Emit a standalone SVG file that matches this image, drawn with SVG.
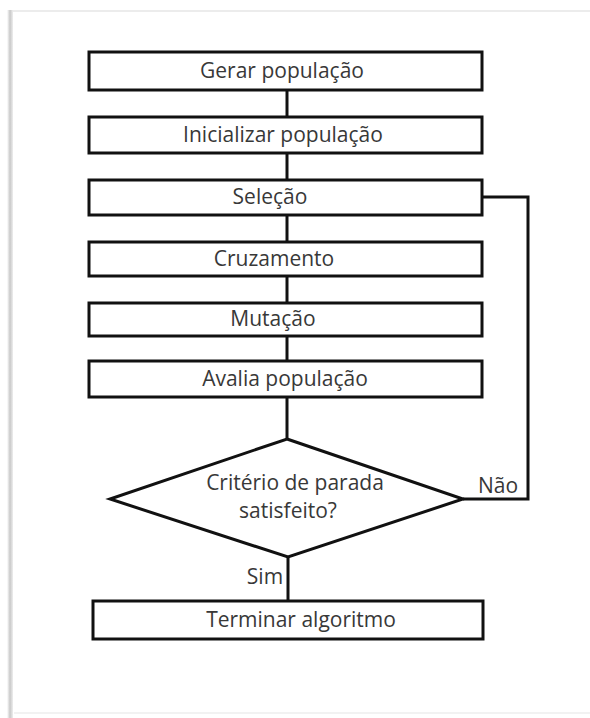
<svg xmlns="http://www.w3.org/2000/svg" width="590" height="718" viewBox="0 0 590 718">
<defs>
<linearGradient id="shadow" x1="0" y1="0" x2="1" y2="0">
<stop offset="0" stop-color="#ffffff"/>
<stop offset="0.5" stop-color="#c8c8c8"/>
<stop offset="1" stop-color="#eeeeee"/>
</linearGradient>
</defs>
<style>
.box{fill:#ffffff;stroke:#111111;stroke-width:3}
.lbl{font-family:"Open Sans","Liberation Sans",sans-serif;font-size:21px;fill:#383838;text-anchor:middle}
.conn{fill:none;stroke:#111111;stroke-width:3}
</style>
<rect x="0" y="0" width="590" height="718" fill="#ffffff"/>
<g id="frame">
<rect x="10" y="10" width="580" height="2" fill="#ececec"/>
<rect x="7" y="10" width="6" height="708" fill="url(#shadow)"/>
<rect x="14" y="712" width="576" height="2" fill="#f2f2f2"/>
</g>
<g id="connectors">
<line class="conn" x1="287" y1="90" x2="287" y2="117"/>
<line class="conn" x1="287" y1="153" x2="287" y2="180"/>
<line class="conn" x1="287" y1="215" x2="287" y2="242"/>
<line class="conn" x1="287" y1="276" x2="287" y2="303"/>
<line class="conn" x1="287" y1="336" x2="287" y2="361"/>
<line class="conn" x1="287" y1="397" x2="287" y2="439"/>
<line class="conn" x1="288" y1="557" x2="288" y2="601"/>
<polyline class="conn" points="463,499 528,499 528,197 482,197"/>
</g>
<g id="gerar">
<rect class="box" x="89" y="52" width="393" height="38"/>
<text class="lbl" x="282" y="78">Gerar população</text>
</g>
<g id="inicializar">
<rect class="box" x="89" y="117" width="393" height="36"/>
<text class="lbl" x="283" y="142">Inicializar população</text>
</g>
<g id="selecao">
<rect class="box" x="89" y="180" width="393" height="35"/>
<text class="lbl" x="270" y="204">Seleção</text>
</g>
<g id="cruzamento">
<rect class="box" x="89" y="242" width="393" height="34"/>
<text class="lbl" x="274" y="266">Cruzamento</text>
</g>
<g id="mutacao">
<rect class="box" x="89" y="303" width="393" height="33"/>
<text class="lbl" x="273" y="326">Mutação</text>
</g>
<g id="avalia">
<rect class="box" x="89" y="361" width="393" height="36"/>
<text class="lbl" x="285" y="386">Avalia população</text>
</g>
<g id="criterio">
<polygon class="box" points="287,439 463,499 288,557 110,499"/>
<text class="lbl" x="295" y="490">Critério de parada</text>
<text class="lbl" x="288" y="518">satisfeito?</text>
</g>
<g id="nao-label">
<text class="lbl" x="498" y="493">Não</text>
</g>
<g id="sim-label">
<text class="lbl" x="265" y="584">Sim</text>
</g>
<g id="terminar">
<rect class="box" x="93" y="601" width="390" height="38"/>
<text class="lbl" x="301" y="627">Terminar algoritmo</text>
</g>
</svg>
